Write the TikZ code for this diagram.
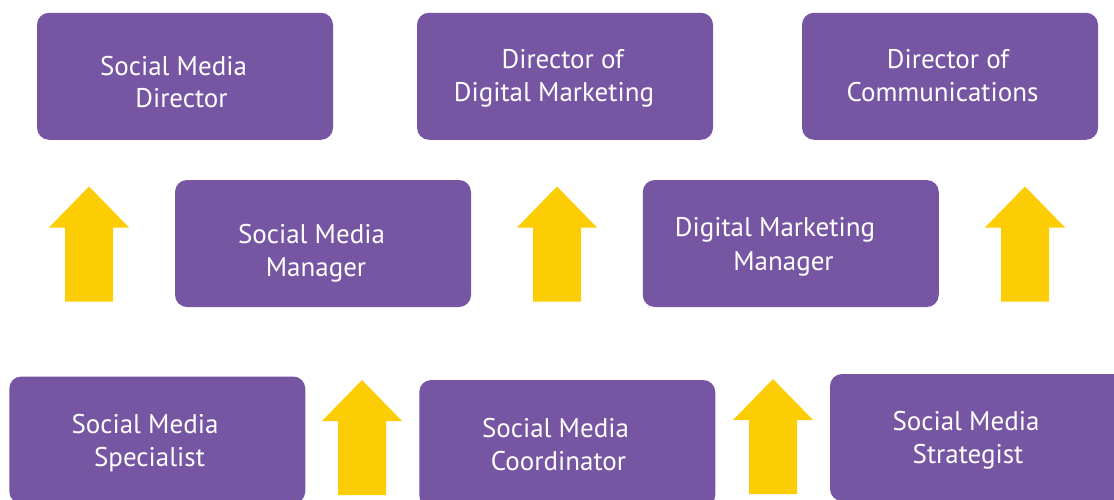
\documentclass[tikz,border=0pt]{standalone}
\usepackage{fontspec}
\setmainfont{PT Sans}
\definecolor{boxpurple}{RGB}{118,86,163}
\definecolor{arrowyellow}{RGB}{252,204,5}
\begin{document}
\begin{tikzpicture}[x=1pt,y=-1pt,
  box/.style={fill=boxpurple, draw=none, rounded corners=12pt, inner sep=0pt, outer sep=0pt,
              minimum width=296pt, minimum height=127pt},
  lbl/.style={anchor=base, text=white, inner sep=0pt, font=\fontsize{27}{33}\selectfont},
  uparrow/.pic={\fill[arrowyellow] (-24,0) -- (-24,-74) -- (-40,-74) -- (0,-115) -- (40,-74) -- (24,-74) -- (24,0) -- cycle;}]
\useasboundingbox (0,0) rectangle (1114,499);
% boxes
\node[box] (b1) at (185,76.25) {};
\node[box] (b2) at (565,76.25) {};
\node[box] (b3) at (950,76.25) {};
\node[box] (b4) at (323,243.5) {};
\node[box] (b5) at (790.75,243.5) {};
\node[box] (b6) at (157.25,440) {};
\node[box] (b7) at (567.25,443.5) {};
\node[box] (b8) at (978,437.5) {};
% texts
\node[lbl] (t1a) at (173.5,75) {Social Media};
\node[lbl] (t1b) at (181.5,107.7) {Director};
\node[lbl] (t2a) at (562.7,68.3) {Director of};
\node[lbl] (t2b) at (554,101) {Digital Marketing};
\node[lbl] (t3a) at (948,68.3) {Director of};
\node[lbl] (t3b) at (942.5,101) {Communications};
\node[lbl] (t4a) at (311.5,243.3) {Social Media};
\node[lbl] (t4b) at (316,276) {Manager};
\node[lbl] (t5a) at (775,236.7) {Digital Marketing};
\node[lbl] (t5b) at (783.5,270) {Manager};
\node[lbl] (t6a) at (145,433.3) {Social Media};
\node[lbl] (t6b) at (149.5,466) {Specialist};
\node[lbl] (t7a) at (555.5,437.3) {Social Media};
\node[lbl] (t7b) at (558.5,470) {Coordinator};
\node[lbl] (t8a) at (966,430.7) {Social Media};
\node[lbl] (t8b) at (968,463.3) {Strategist};
% arrows
\pic at (89,301.5) {uparrow};
\pic at (557,301.5) {uparrow};
\pic at (1025,301.5) {uparrow};
\pic at (362,495) {uparrow};
\pic at (773,494) {uparrow};
\end{tikzpicture}
\end{document}
